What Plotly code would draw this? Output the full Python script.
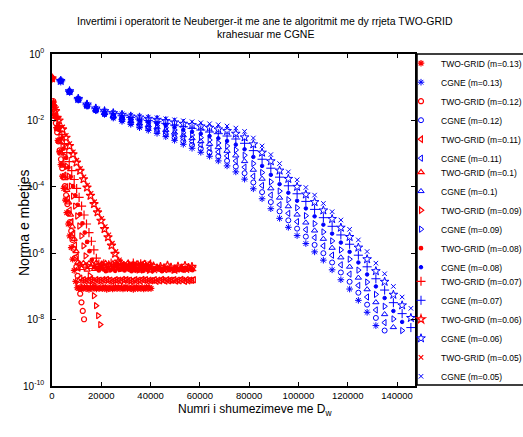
import plotly.graph_objects as go

# ---------------- data (log10 of residual norm) ----------------
# D_w multiplications at each CGNE iteration (shared by all CGNE runs)
CGNE_X = [3552, 7104, 10656, 14208, 17760, 21312, 24864, 28416, 31968,
          35520, 39072, 42624, 46176, 49728, 53280, 56832, 60384, 63936, 67488,
          71040, 74592, 78144, 81696, 85248, 88800, 92352, 95904, 99456, 103008,
          106560, 110112, 113664, 117216, 120768, 124320, 127872, 131424, 134976,
          138528, 142080, 145632]

cgne_m013 = [-0.81, -1.14, -1.38, -1.57, -1.71, -1.82, -1.93, -2.03, -2.12, -2.22, -2.30, -2.39, -2.49, -2.60, -2.72, -2.84, -2.96, -3.08, -3.22, -3.37, -3.55, -3.77, -4.06, -4.36, -4.66, -4.95, -5.22, -5.47, -5.71, -5.96, -6.21, -6.50, -6.80, -7.08, -7.42, -7.78, -8.18]
cgne_m012 = [-0.81, -1.14, -1.38, -1.56, -1.70, -1.81, -1.91, -2.00, -2.09, -2.18, -2.25, -2.33, -2.42, -2.52, -2.63, -2.74, -2.85, -2.96, -3.08, -3.22, -3.39, -3.59, -3.87, -4.16, -4.46, -4.74, -5.01, -5.26, -5.50, -5.75, -6.00, -6.28, -6.58, -6.86, -7.19, -7.55, -7.95, -8.33]
cgne_m011 = [-0.81, -1.14, -1.37, -1.56, -1.69, -1.79, -1.89, -1.97, -2.05, -2.13, -2.20, -2.27, -2.36, -2.45, -2.54, -2.64, -2.74, -2.84, -2.95, -3.07, -3.22, -3.41, -3.68, -3.96, -4.25, -4.54, -4.80, -5.05, -5.29, -5.53, -5.78, -6.06, -6.35, -6.63, -6.97, -7.32, -7.71, -8.09]
cgne_m010 = [-0.81, -1.13, -1.37, -1.55, -1.68, -1.78, -1.87, -1.94, -2.02, -2.09, -2.15, -2.21, -2.29, -2.37, -2.45, -2.54, -2.63, -2.71, -2.81, -2.92, -3.06, -3.23, -3.49, -3.76, -4.05, -4.33, -4.59, -4.84, -5.08, -5.32, -5.57, -5.84, -6.13, -6.41, -6.74, -7.09, -7.48, -7.84, -8.23]
cgne_m009 = [-0.81, -1.13, -1.36, -1.54, -1.67, -1.77, -1.85, -1.92, -1.98, -2.05, -2.10, -2.16, -2.22, -2.29, -2.37, -2.44, -2.52, -2.59, -2.68, -2.77, -2.89, -3.05, -3.30, -3.57, -3.85, -4.13, -4.39, -4.63, -4.87, -5.11, -5.36, -5.63, -5.90, -6.18, -6.51, -6.87, -7.24, -7.60, -7.98, -8.33]
cgne_m008 = [-0.81, -1.13, -1.36, -1.53, -1.66, -1.75, -1.82, -1.89, -1.95, -2.00, -2.05, -2.10, -2.15, -2.21, -2.28, -2.34, -2.40, -2.47, -2.54, -2.62, -2.73, -2.87, -3.10, -3.37, -3.64, -3.92, -4.18, -4.42, -4.65, -4.89, -5.14, -5.41, -5.68, -5.96, -6.28, -6.64, -7.00, -7.35, -7.74, -8.07]
cgne_m007 = [-0.81, -1.12, -1.35, -1.53, -1.65, -1.74, -1.80, -1.86, -1.91, -1.96, -2.00, -2.04, -2.09, -2.14, -2.19, -2.24, -2.29, -2.35, -2.40, -2.47, -2.56, -2.69, -2.91, -3.17, -3.44, -3.71, -3.97, -4.21, -4.44, -4.68, -4.93, -5.19, -5.45, -5.73, -6.06, -6.41, -6.77, -7.11, -7.49, -7.82, -8.24]
cgne_m006 = [-0.81, -1.12, -1.35, -1.52, -1.64, -1.72, -1.78, -1.83, -1.88, -1.91, -1.95, -1.98, -2.02, -2.06, -2.10, -2.14, -2.18, -2.22, -2.27, -2.32, -2.40, -2.51, -2.72, -2.97, -3.23, -3.51, -3.76, -4.00, -4.23, -4.46, -4.71, -4.97, -5.23, -5.51, -5.83, -6.18, -6.54, -6.86, -7.25, -7.57, -7.95]
cgne_m005 = [-0.81, -1.12, -1.34, -1.51, -1.63, -1.71, -1.76, -1.80, -1.84, -1.87, -1.90, -1.92, -1.95, -1.98, -2.01, -2.04, -2.07, -2.10, -2.13, -2.17, -2.23, -2.33, -2.53, -2.77, -3.03, -3.30, -3.55, -3.79, -4.02, -4.25, -4.50, -4.75, -5.00, -5.28, -5.60, -5.95, -6.30, -6.62, -7.00, -7.32, -7.66]

# D_w multiplications per TWO-GRID iteration, for m = 0.13 ... 0.05
TG_COST = [600, 520, 720, 750, 850, 950, 1000, 1420, 1440]

tg_m013 = [-0.73, -1.45, -1.85, -2.22, -2.60, -2.95, -3.33, -3.68, -4.05, -4.40, -4.78, -5.12, -5.48, -5.83, -6.18, -6.52, -6.85, -7.04,
           -7.06, -7.03, -7.08, -7.05, -7.02, -7.07, -7.04, -7.09, -7.03, -7.06, -7.05, -7.01, -7.08, -7.04, -7.06, -7.03, -7.07, -7.05, -7.02, -7.09,
           -7.04, -7.06, -7.03, -7.08, -7.05, -7.02, -7.07, -7.04, -7.06, -7.03, -7.08, -7.05, -7.01, -7.07, -7.04, -7.06, -7.03, -7.09, -7.05, -7.02,
           -7.07, -7.04, -7.06, -7.03, -7.08, -7.05, -7.02, -7.07, -7.04, -7.06]
tg_m012 = [-0.73, -1.42, -1.78, -2.08, -2.36, -2.63, -2.90, -3.17, -3.44, -3.71, -3.98, -4.25, -4.52, -4.79, -5.06, -5.33, -5.60, -5.87, -6.14, -6.41, -6.68, -6.95, -7.22, -7.48, -7.74, -7.99]
tg_m011 = [-0.73, -1.50, -1.90, -2.25, -2.60, -2.95, -3.30, -3.65, -4.00, -4.35, -4.70, -5.05, -5.40, -5.75, -6.10, -6.45, -6.75,
           -6.82, -6.80, -6.84, -6.81, -6.83, -6.79, -6.82, -6.85, -6.80, -6.83, -6.81, -6.84, -6.80, -6.82, -6.79, -6.83, -6.81, -6.85, -6.82, -6.80,
           -6.83, -6.81, -6.84, -6.79, -6.82, -6.80, -6.83, -6.81, -6.85, -6.82, -6.80, -6.84, -6.81, -6.83, -6.79, -6.82, -6.80, -6.84, -6.81, -6.83,
           -6.82, -6.80, -6.85, -6.81, -6.83, -6.79, -6.82, -6.84, -6.80, -6.83, -6.81, -6.82, -6.80, -6.84, -6.81, -6.83, -6.79, -6.82, -6.85, -6.80,
           -6.83, -6.81, -6.82, -6.80]
tg_m010 = [-0.73, -1.52, -1.90, -2.27, -2.64, -3.00, -3.37, -3.74, -4.10, -4.47, -4.84, -5.20, -5.57, -5.94, -6.28,
           -6.32, -6.45, -6.30, -6.38, -6.50, -6.31, -6.42, -6.34, -6.48, -6.29, -6.36, -6.46, -6.32, -6.40, -6.30, -6.52, -6.35, -6.43, -6.31, -6.47,
           -6.33, -6.39, -6.29, -6.49, -6.34, -6.41, -6.30, -6.45, -6.36, -6.32, -6.50, -6.31, -6.40, -6.33, -6.46, -6.30, -6.38, -6.44, -6.32]
tg_m009 = [-0.73, -1.55, -1.88, -2.18, -2.48, -2.78, -3.08, -3.38, -3.68, -3.98, -4.28, -4.58, -4.88, -5.18, -5.48, -5.78, -6.08, -6.38, -6.68, -6.98, -7.28, -7.58, -7.88, -8.15]
tg_m008 = [-0.73, -1.60, -1.93, -2.25, -2.55, -2.85, -3.13, -3.42, -3.70, -3.98, -4.26, -4.54, -4.82, -5.10, -5.38, -5.66, -5.94, -6.20, -6.42,
           -6.46, -6.52, -6.43, -6.49, -6.54, -6.45, -6.51, -6.47, -6.53, -6.42, -6.50, -6.46, -6.52, -6.44, -6.49, -6.54, -6.43, -6.48, -6.51, -6.45,
           -6.53, -6.47, -6.50, -6.42, -6.52, -6.46, -6.49, -6.44, -6.54, -6.48, -6.45, -6.51, -6.47, -6.53, -6.43, -6.50, -6.46, -6.52, -6.44, -6.49,
           -6.48, -6.51]
tg_m007 = [-0.73, -1.60, -1.88, -2.16, -2.43, -2.70, -2.97, -3.24, -3.51, -3.78, -4.05, -4.32, -4.58, -4.85, -5.12, -5.38, -5.64, -5.90, -6.15, -6.33,
           -6.38, -6.32, -6.42, -6.35, -6.30, -6.40, -6.34, -6.44, -6.31, -6.37, -6.41, -6.33, -6.39, -6.30, -6.43, -6.36, -6.32, -6.40, -6.35, -6.38, -6.33]
tg_m006 = [-0.73, -1.72, -2.00, -2.27, -2.52, -2.77, -3.02, -3.27, -3.52, -3.77, -4.02, -4.27, -4.52, -4.77, -5.02, -5.27, -5.52, -5.77, -6.02, -6.25, -6.42,
           -6.42, -6.37, -6.46, -6.40, -6.49, -6.38, -6.44, -6.50, -6.39, -6.45, -6.41, -6.48, -6.37, -6.43, -6.50, -6.40, -6.46, -6.38, -6.44, -6.41]
tg_m005 = [-0.73, -1.68, -1.95, -2.20, -2.45, -2.70, -2.95, -3.20, -3.45, -3.70, -3.95, -4.20, -4.45, -4.70, -4.95, -5.20, -5.45, -5.70, -5.95, -6.20, -6.40,
           -6.44, -6.49, -6.41, -6.52, -6.46, -6.43, -6.50, -6.45, -6.53, -6.42, -6.48, -6.44, -6.51, -6.46, -6.42, -6.49, -6.45, -6.52, -6.43, -6.47]

M_LABELS = ["0.13", "0.12", "0.11", "0.1", "0.09", "0.08", "0.07", "0.06", "0.05"]
TG_LOG = [tg_m013, tg_m012, tg_m011, tg_m010, tg_m009, tg_m008, tg_m007, tg_m006, tg_m005]
CGNE_LOG = [cgne_m013, cgne_m012, cgne_m011, cgne_m010, cgne_m009, cgne_m008, cgne_m007, cgne_m006, cgne_m005]

X_TICKS = [0, 20000, 40000, 60000, 80000, 100000, 120000, 140000]
Y_TICK_EXP = [0, -2, -4, -6, -8, -10]

# ---------------- styles ----------------
SYMBOLS = ["asterisk-open", "circle-open", "triangle-left-open", "triangle-up-open",
           "triangle-right-open", "circle", "cross-thin-open", "star-open", "x-thin-open"]
SIZES = [5.5, 5, 5.5, 5.5, 5.5, 3.5, 6.5, 6.5, 4.5]
RED = "#ff0000"
BLUE = "#0000ff"
SANS = "Liberation Sans, Arial, sans-serif"
LEGEND_IDS = ["legend", "legend2", "legend3"]

fig = go.Figure()
entry = 0
for i, m in enumerate(M_LABELS):
    tg = TG_LOG[i]
    fig.add_trace(go.Scatter(
        x=[j * TG_COST[i] for j in range(len(tg))],
        y=[10 ** v for v in tg],
        mode="markers", name=f"TWO-GRID (m={m})",
        legend=LEGEND_IDS[entry // 6],
        marker=dict(symbol=SYMBOLS[i], size=SIZES[i], color=RED,
                    line=dict(color=RED, width=1.2))))
    entry += 1
    cg = CGNE_LOG[i]
    fig.add_trace(go.Scatter(
        x=CGNE_X[:len(cg)],
        y=[10 ** v for v in cg],
        mode="markers", name=f"CGNE (m={m})",
        legend=LEGEND_IDS[entry // 6],
        marker=dict(symbol=SYMBOLS[i], size=SIZES[i], color=BLUE,
                    line=dict(color=BLUE, width=1))))
    entry += 1

L, R, T, B = 52, 108, 54, 51
W, H = 523, 437
PW, PH = W - L - R, H - T - B


def px_x(p):
    return (p - L) / PW


def px_y(p):
    return (H - B - p) / PH


LEG_STYLE = dict(xanchor="left", yanchor="top", bgcolor="rgba(0,0,0,0)",
                 borderwidth=0, maxheight=1, itemclick=False,
                 font=dict(family=SANS, size=8.5, color="black"))

fig.update_layout(
    width=W, height=H,
    margin=dict(l=L, r=R, t=T, b=B, autoexpand=False),
    paper_bgcolor="white", plot_bgcolor="white",
    showlegend=True,
    legend=dict(x=px_x(401), y=px_y(48.7), **LEG_STYLE),
    legend2=dict(x=px_x(401), y=px_y(157.7), **LEG_STYLE),
    legend3=dict(x=px_x(401), y=px_y(266.8), **LEG_STYLE),
    xaxis=dict(range=[0, 147300], tickvals=X_TICKS, ticktext=[str(v) for v in X_TICKS],
               ticks="inside", ticklen=4, tickcolor="black", showline=True,
               linecolor="black", linewidth=1.5, mirror="ticks", showgrid=False,
               zeroline=False, tickfont=dict(family=SANS, size=9.5, color="black")),
    yaxis=dict(type="log", range=[-10, 0], tickvals=[10 ** e for e in Y_TICK_EXP],
               ticktext=[f"10<sup>{e}</sup>" for e in Y_TICK_EXP],
               ticks="inside", ticklen=4, tickcolor="black", showline=True,
               linecolor="black", linewidth=1.5, mirror="ticks", showgrid=False,
               zeroline=False, ticklabelstandoff=4,
               tickfont=dict(family=SANS, size=10, color="black")),
    shapes=[dict(type="rect", xref="paper", yref="paper",
                 x0=px_x(417), x1=px_x(540), y0=px_y(385), y1=px_y(54),
                 line=dict(color="black", width=1.5), fillcolor="rgba(0,0,0,0)")],
    annotations=[
        dict(text="Invertimi i operatorit te Neuberger-it me ane te algoritmit me dy rrjeta TWO-GRID",
             xref="paper", yref="paper", x=px_x(265), y=px_y(21), xanchor="center",
             yanchor="middle", showarrow=False,
             font=dict(family=SANS, size=10.5, color="black")),
        dict(text="krahesuar me CGNE",
             xref="paper", yref="paper", x=px_x(265), y=px_y(34.5), xanchor="center",
             yanchor="middle", showarrow=False,
             font=dict(family=SANS, size=10.5, color="black")),
        dict(text="Numri i shumezimeve me D<sub>w</sub>",
             xref="paper", yref="paper", x=px_x(255), y=px_y(410), xanchor="center",
             yanchor="middle", showarrow=False,
             font=dict(family=SANS, size=12, color="black")),
        dict(text="Norma e mbetjes", textangle=-90,
             xref="paper", yref="paper", x=px_x(24), y=px_y(223), xanchor="center",
             yanchor="middle", showarrow=False,
             font=dict(family=SANS, size=14, color="black")),
    ],
)

fig.write_html("out.html", config={"displayModeBar": False},
               post_script="document.body.style.margin='0px';")
